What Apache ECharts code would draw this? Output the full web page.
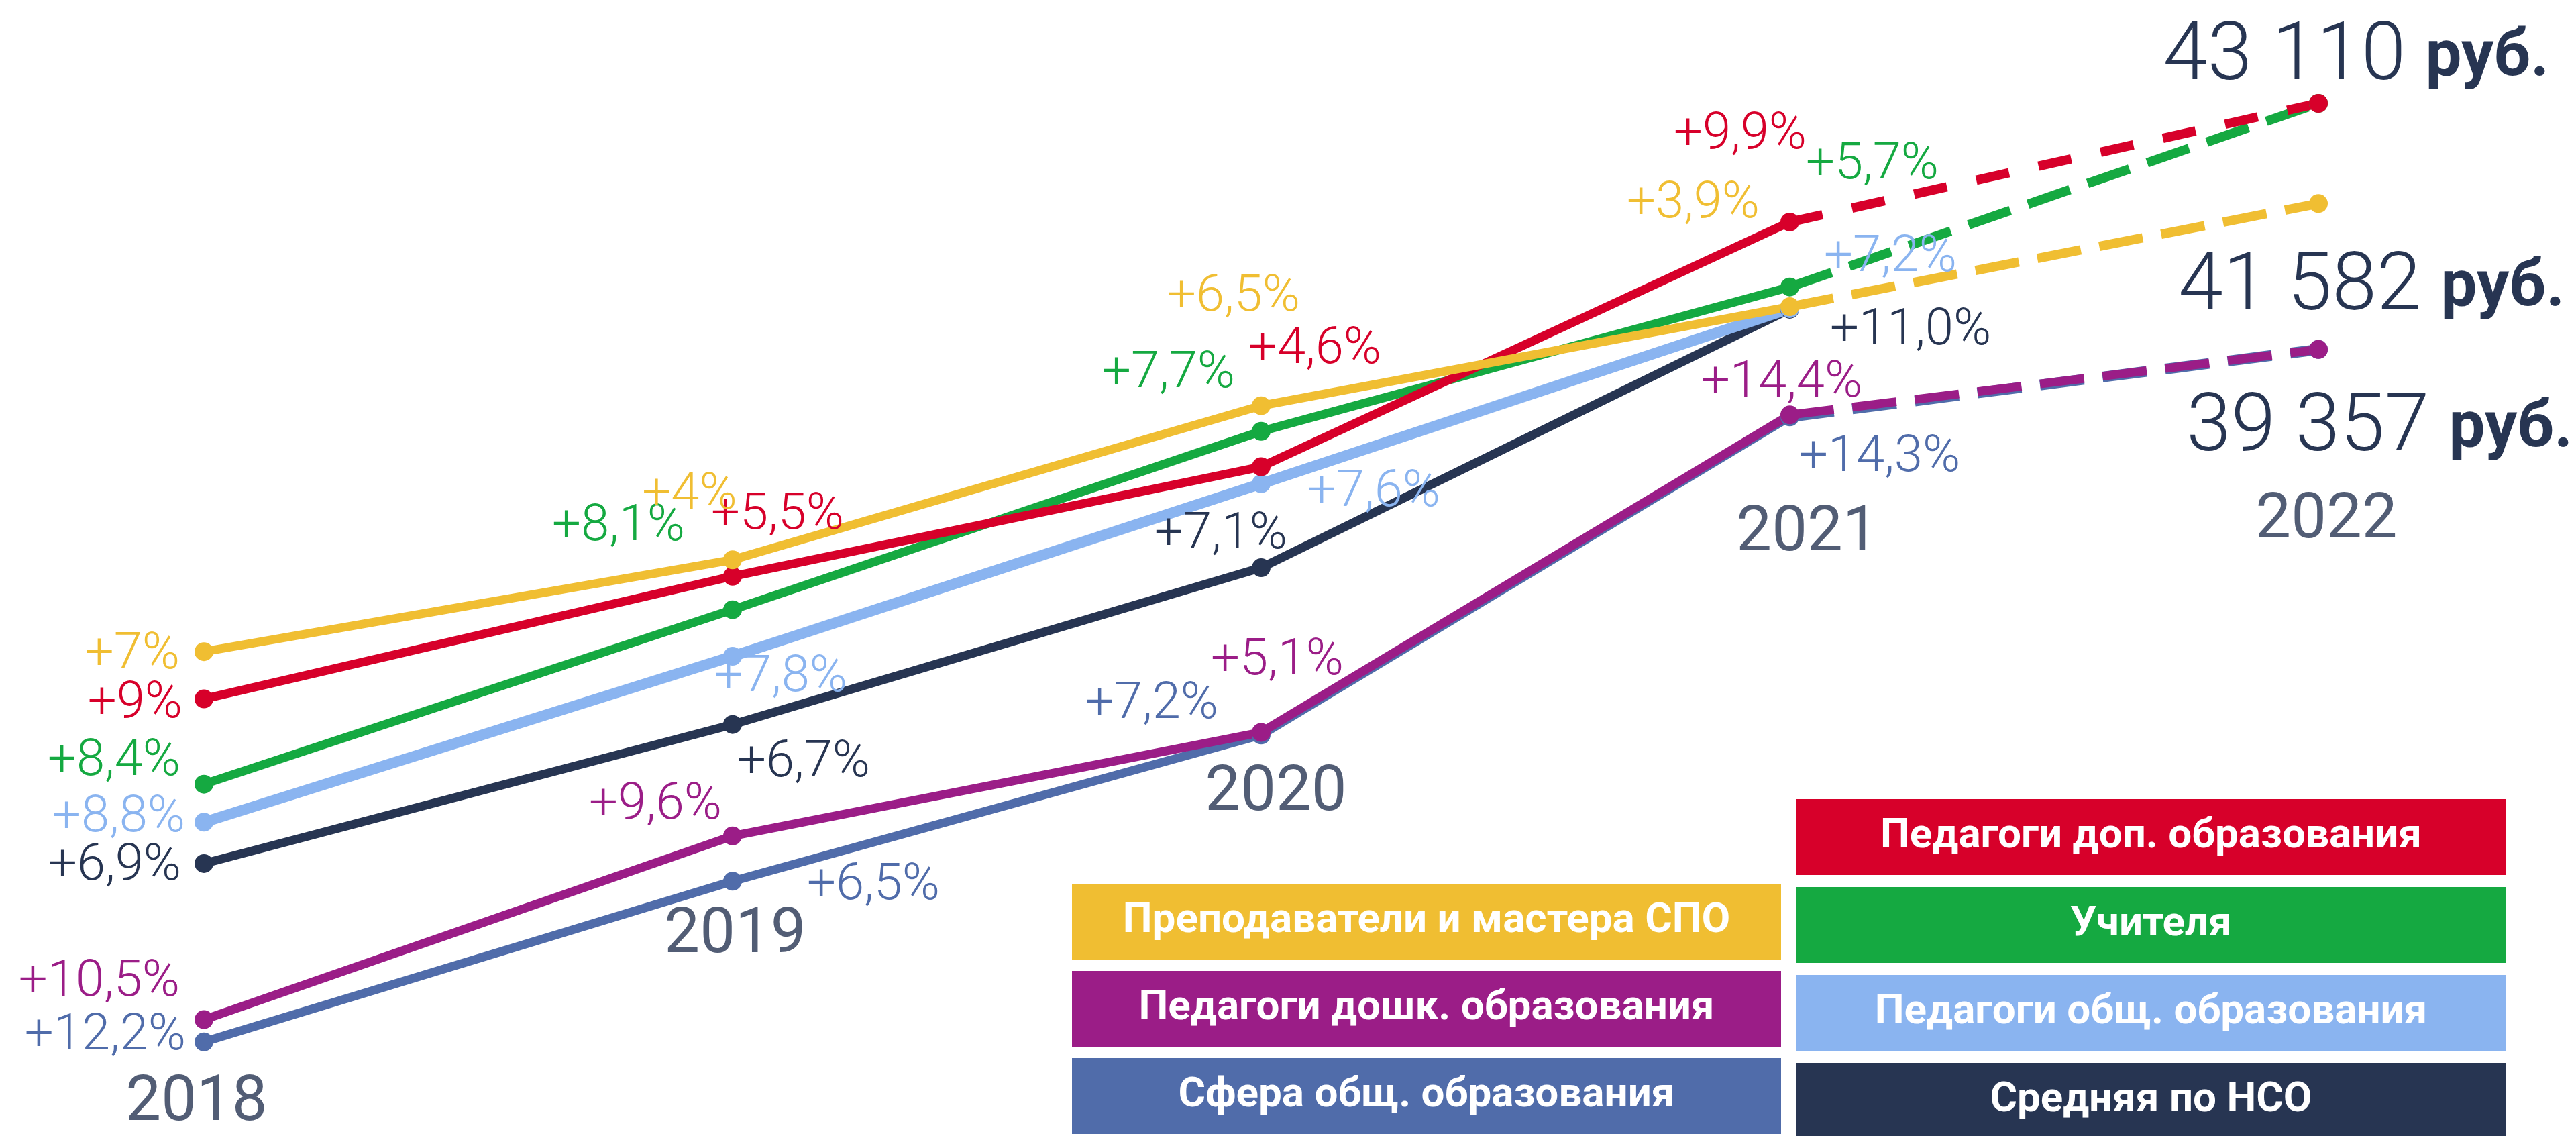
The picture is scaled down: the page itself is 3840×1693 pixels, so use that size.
<!DOCTYPE html>
<html>
<head>
<meta charset="utf-8">
<style>
  html, body { margin: 0; padding: 0; background: #fff; }
  #chart { width: 3840px; height: 1693px; }
</style>
<script src="https://cdn.jsdelivr.net/npm/echarts@6/dist/echarts.min.js"></script>
</head>
<body>
<div id="chart"></div>
<script>
var years = ['2018', '2019', '2020', '2021', '2022'];

// средняя зарплата, руб. (2022 - целевое значение)
var dopValues     = [34030, 35900, 37570, 41300, 43110];
var spoValues     = [34750, 36150, 38500, 40010, 41582];
var teacherValues = [32730, 35390, 38110, 40310, 43110];
var obshValues    = [32150, 34680, 37310, 39980, null];
var nsoValues     = [31520, 33640, 36030, 39970, null];
var doshValues    = [29140, 31940, 33520, 38360, 39357];
var sferaValues   = [28800, 31250, 33480, 38330, 39357];

// прирост к предыдущему году
var dopPct     = ['+9%', '+5,5%', '+4,6%', '+9,9%'];
var spoPct     = ['+7%', '+4%', '+6,5%', '+3,9%'];
var teacherPct = ['+8,4%', '+8,1%', '+7,7%', '+5,7%'];
var obshPct    = ['+8,8%', '+7,8%', '+7,6%', '+7,2%'];
var nsoPct     = ['+6,9%', '+6,7%', '+7,1%', '+11,0%'];
var doshPct    = ['+10,5%', '+9,6%', '+5,1%', '+14,4%'];
var sferaPct   = ['+12,2%', '+6,5%', '+7,2%', '+14,3%'];

var NAVY = '#273552';
var FONT = 'Roboto';

// drawing order (last on top); label offsets are [dx, dy] from the point
var lines = [
  { name: 'Сфера общ. образования', values: sferaValues, pct: sferaPct, color: '#506CAA', width: 13, dash: [66, 28], dashWidth: 16,
    offsets: [[-27, -8], [210, 8], [-163, -44], [134, 62]] },
  { name: 'Средняя по НСО', values: nsoValues, pct: nsoPct, color: NAVY, width: 13,
    offsets: [[-34, 5], [106, 58], [-60, -48], [180, 33]] },
  { name: 'Педагоги общ. образования', values: obshValues, pct: obshPct, color: '#8AB4F0', width: 16,
    offsets: [[-28, -5], [72, 33], [168, 14], [150, -75]] },
  { name: 'Педагоги дошк. образования', values: doshValues, pct: doshPct, color: '#9B1D87', width: 13, dash: [66, 28], dashWidth: 13,
    offsets: [[-36, -55], [-115, -45], [24, -105], [-12, -46]], total: [379, 120] },
  { name: 'Учителя', values: teacherValues, pct: teacherPct, color: '#15A941', width: 13, dash: [66, 28], dashWidth: 14,
    offsets: [[-35, -33], [-170, -123], [-138, -85], [123, -181]] },
  { name: 'Педагоги доп. образования', values: dopValues, pct: dopPct, color: '#D7002A', width: 13, dash: [50, 45], dashWidth: 14,
    offsets: [[-32, 8], [67, -90], [80, -174], [-74, -129]], total: [344, -66] },
  { name: 'Преподаватели и мастера СПО', values: spoValues, pct: spoPct, color: '#F0BE32', width: 13, dash: [66, 28], dashWidth: 14,
    offsets: [[-36, 6], [-64, -95], [-41, -161], [-144, -152]], total: [367, 128] }
];

var legendLeft = ['Преподаватели и мастера СПО', 'Педагоги дошк. образования', 'Сфера общ. образования'];
var legendRight = ['Педагоги доп. образования', 'Учителя', 'Педагоги общ. образования', 'Средняя по НСО'];

var yearOffsets = [[-11, 93], [4, 82], [22, 88], [26, 175], [12, 257]];

function fmt(v) {
  return String(v).replace(/\B(?=(\d{3})+(?!\d))/g, ' ');
}

var series = [];
lines.forEach(function (s) {
  // сплошная часть 2018-2021
  series.push({
    name: s.name,
    type: 'line',
    symbol: 'circle',
    symbolSize: 28,
    lineStyle: { color: s.color, width: s.width },
    itemStyle: { color: s.color },
    label: { show: true, position: 'inside', verticalAlign: 'middle', color: s.color,
             fontFamily: FONT, fontWeight: 300, fontSize: 76 },
    data: s.values.map(function (v, i) {
      if (i > 3 || v == null) return null;
      return { value: v, label: { formatter: s.pct[i], align: i === 0 ? 'right' : 'center', offset: s.offsets[i] } };
    }),
    animation: false
  });
  // прогноз 2021-2022 пунктиром
  if (s.values[4] != null) {
    series.push({
      name: s.name,
      type: 'line',
      symbol: 'circle',
      symbolSize: 28,
      lineStyle: { color: s.color, width: s.dashWidth, type: s.dash, cap: 'butt' },
      itemStyle: { color: s.color },
      data: s.values.map(function (v, i) {
        if (i < 3) return null;
        if (i === 3) return { value: v, symbol: 'none' };
        var item = { value: v };
        if (s.total) {
          item.label = {
            show: true, position: 'inside', align: 'right', verticalAlign: 'middle',
            offset: s.total, fontSize: 120, fontFamily: FONT, fontWeight: 300, color: NAVY,
            formatter: '{v|' + fmt(v) + '} {u|руб.}',
            rich: {
              v: { fontSize: 120, fontFamily: FONT, fontWeight: 300, color: NAVY },
              u: { fontSize: 96, fontFamily: FONT, fontWeight: 'bold', color: NAVY }
            }
          };
        }
        return item;
      }),
      animation: false
    });
  }
});

// подписи годов под нижней линией
var yearAnchor = years.map(function (y, i) {
  var vals = lines.map(function (s) { return s.values[i]; }).filter(function (v) { return v != null; });
  return Math.min.apply(null, vals);
});
series.push({
  type: 'scatter',
  silent: true,
  symbolSize: 1,
  itemStyle: { color: 'rgba(0,0,0,0)' },
  label: { show: true, position: 'inside', align: 'center', verticalAlign: 'middle',
           fontFamily: FONT, fontWeight: 'normal', fontSize: 94, color: NAVY,
           formatter: function (p) { return years[p.dataIndex]; } },
  data: yearAnchor.map(function (v, i) { return { value: v, label: { offset: yearOffsets[i] } }; }),
  animation: false
});

var legendRich = {};
lines.forEach(function (s, i) {
  legendRich['k' + i] = {
    width: 1057, height: 113, lineHeight: 113, align: 'center', verticalAlign: 'middle',
    backgroundColor: s.color, color: '#fff', fontSize: 62, fontWeight: 'bold', fontFamily: FONT
  };
});
function legendFormatter(name) {
  var idx = lines.findIndex(function (s) { return s.name === name; });
  return '{k' + idx + '|' + name + '}';
}
function makeLegend(names, left, top, gap) {
  return {
    data: names, orient: 'vertical', left: left, top: top, height: 700, itemGap: gap, padding: 0,
    itemWidth: 0, itemHeight: 0, formatter: legendFormatter,
    textStyle: { rich: legendRich }
  };
}

var chart = echarts.init(document.getElementById('chart'));
chart.setOption({
  backgroundColor: '#fff',
  animation: false,
  grid: { left: 304, right: 384, top: 67, bottom: 62, outerBoundsMode: 'none' },
  xAxis: { type: 'category', data: years, boundaryGap: false, show: false },
  yAxis: { type: 'value', min: 28000, max: 44000, show: false },
  legend: [
    makeLegend(legendLeft, 1592, 1317, 17),
    makeLegend(legendRight, 2672, 1191, 18)
  ],
  series: series
});
</script>
</body>
</html>
